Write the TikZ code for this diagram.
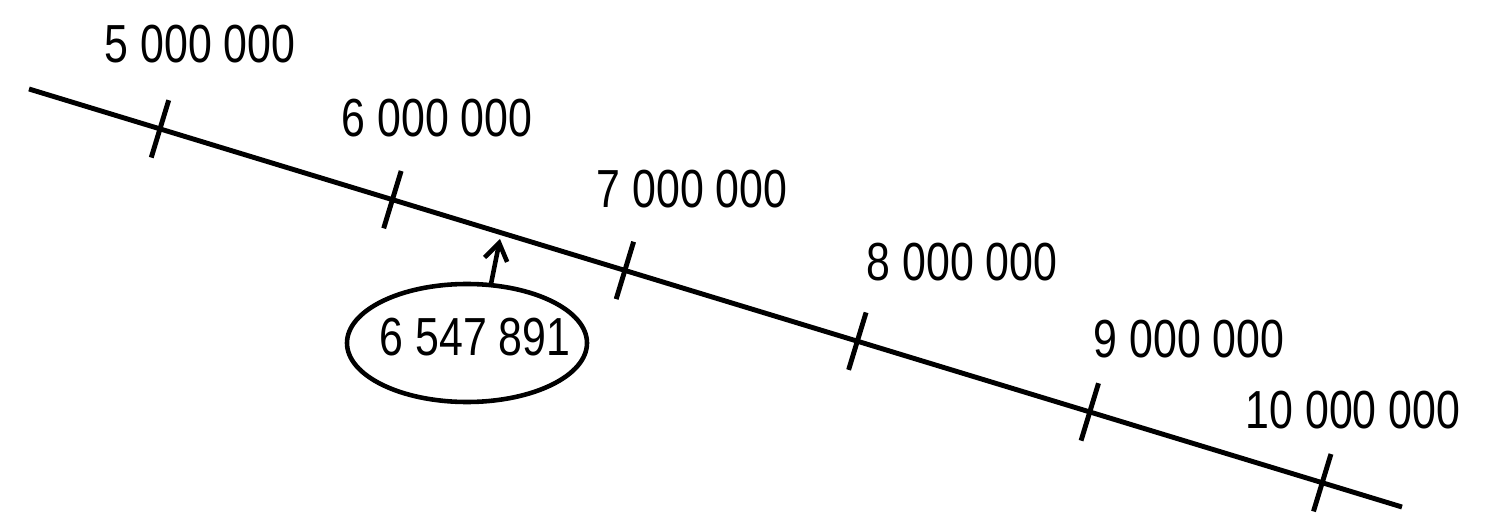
\documentclass[tikz,border=0pt]{standalone}
\usepackage{fontspec}
\newfontfamily\numfont[FakeStretch=0.8]{Liberation Sans}
\usetikzlibrary{calc, arrows.meta}

\begin{document}
\begin{tikzpicture}[x=0.02cm,y=0.02cm,>={Straight Barb[length=0.34cm,width=0.46cm]}]
\useasboundingbox (0,0) rectangle (1492,-517);
\tikzset{num/.style={font=\numfont\fontsize{30.5}{32}\selectfont, inner sep=0pt, anchor=base}}

\coordinate (S) at (29,-89);
\coordinate (E) at (1402,-507);
\coordinate (T5) at ($(S)!0.0954!(E)$);
\coordinate (T6) at ($(S)!0.2647!(E)$);
\coordinate (T7) at ($(S)!0.4340!(E)$);
\coordinate (T8) at ($(S)!0.6033!(E)$);
\coordinate (T9) at ($(S)!0.7726!(E)$);
\coordinate (T10) at ($(S)!0.9419!(E)$);

% number line and ticks
\draw[line width=2.8pt] (S) -- (E);
\draw[line width=2.8pt] ($(T5)!0.6cm!90:(E)$) -- ($(T5)!0.6cm!-90:(E)$);
\draw[line width=2.8pt] ($(T6)!0.6cm!90:(E)$) -- ($(T6)!0.6cm!-90:(E)$);
\draw[line width=2.8pt] ($(T7)!0.6cm!90:(E)$) -- ($(T7)!0.6cm!-90:(E)$);
\draw[line width=2.8pt] ($(T8)!0.6cm!90:(E)$) -- ($(T8)!0.6cm!-90:(E)$);
\draw[line width=2.8pt] ($(T9)!0.6cm!90:(E)$) -- ($(T9)!0.6cm!-90:(E)$);
\draw[line width=2.8pt] ($(T10)!0.6cm!90:(E)$) -- ($(T10)!0.6cm!-90:(E)$);

\node[num] (L5) at (200,-63) {5 000 000};
\node[num] (L6) at (437,-137) {6 000 000};
\node[num] (L7) at (692,-208) {7 000 000};
\node[num] (L8) at (962,-280) {8 000 000};
\node[num] (L9) at (1189,-357) {9 000 000};
\node[num] (L10) at (1353,-428) {10 000 000};

% the circled value
\draw[line width=2.6pt] (467,-343) ellipse [x radius=120, y radius=59];
\node[num] (guess) at (475,-355) {6 547 891};

\coordinate (top) at (491,-284);
\coordinate (mark) at (500,-239);
\draw[->, line width=2.6pt] (top) -- (mark);
\end{tikzpicture}
\end{document}
